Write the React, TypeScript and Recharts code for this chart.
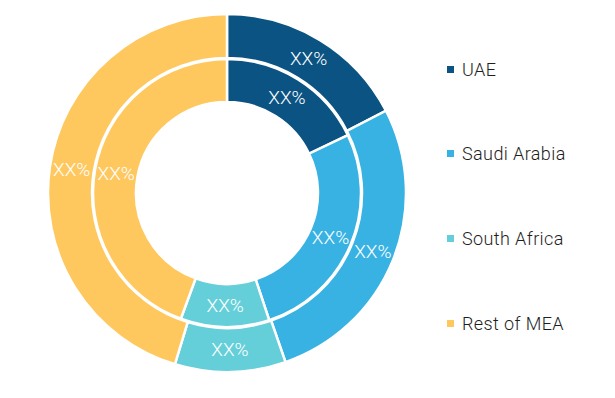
import { Legend, Pie, PieChart, Cell } from "recharts";

const REGIONS = ["UAE", "Saudi Arabia", "South Africa", "Rest of MEA"];
const OUTER_SHARE = [17.4, 27.3, 10.0, 45.3];
const INNER_SHARE = [17.9, 27.0, 10.7, 44.4];
const SLICE_LABELS = ["XX%", "XX%", "XX%", "XX%"];
const COLORS = ["#0b5382", "#37b2e3", "#64cfd9", "#fec85f"];

const outerData = REGIONS.map((name, i) => ({ name, value: OUTER_SHARE[i], label: SLICE_LABELS[i] }));
const innerData = REGIONS.map((name, i) => ({ name, value: INNER_SHARE[i], label: SLICE_LABELS[i] }));

const RAD = Math.PI / 180;

// white "XX%" centred in the middle of each ring segment
const renderLabel = (props: any) => {
  const { cx, cy, midAngle, innerRadius, outerRadius, payload } = props;
  const r = (innerRadius + outerRadius) / 2;
  const x = cx + r * Math.cos(-midAngle * RAD);
  const y = cy + r * Math.sin(-midAngle * RAD);
  return (
    <text
      x={x}
      y={y}
      fill="#ffffff"
      textAnchor="middle"
      dominantBaseline="central"
      fontSize={19}
      fontWeight={300}
      fontFamily="Roboto, sans-serif"
    >
      {payload.label}
    </text>
  );
};

const LegendList = () => (
  <div style={{ fontFamily: "Roboto, sans-serif" }}>
    {REGIONS.map((name, i) => (
      <div
        key={name}
        style={{ display: "flex", alignItems: "center", height: 22, marginBottom: 62.7 }}
      >
        <span style={{ width: 7, height: 7, background: COLORS[i], marginRight: 8 }} />
        <span style={{ fontSize: 18, fontWeight: 300, letterSpacing: 0.4, color: "#1e1e1e" }}>
          {name}
        </span>
      </div>
    ))}
  </div>
);

export default function App() {
  return (
    <div style={{ margin: -8, background: "#fff" }}>
      <PieChart width={615} height={398} margin={{ top: 0, right: 0, bottom: 0, left: 0 }}>
        <Pie
          data={outerData}
          dataKey="value"
          cx={227}
          cy={193}
          innerRadius={135}
          outerRadius={179}
          startAngle={90}
          endAngle={-270}
          stroke="#ffffff"
          strokeWidth={2.5}
          label={renderLabel}
          labelLine={false}
          isAnimationActive={false}
        >
          {outerData.map((d, i) => (
            <Cell key={d.name} fill={COLORS[i]} />
          ))}
        </Pie>
        <Pie
          data={innerData}
          dataKey="value"
          cx={227}
          cy={193}
          innerRadius={91}
          outerRadius={134}
          startAngle={90}
          endAngle={-270}
          stroke="#ffffff"
          strokeWidth={2.5}
          label={renderLabel}
          labelLine={false}
          isAnimationActive={false}
        >
          {innerData.map((d, i) => (
            <Cell key={d.name} fill={COLORS[i]} />
          ))}
        </Pie>
        <Legend
          content={<LegendList />}
          wrapperStyle={{ left: 447, top: 58, width: 160, bottom: "auto" }}
        />
      </PieChart>
    </div>
  );
}
